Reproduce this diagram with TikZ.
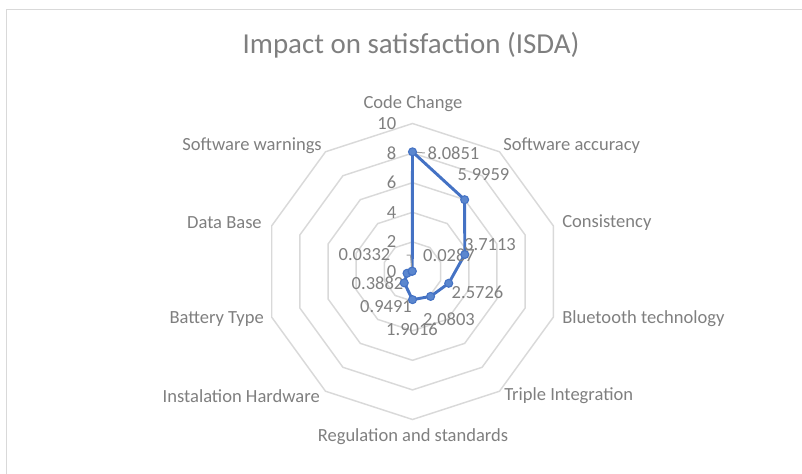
\documentclass[tikz,border=0pt]{standalone}
\usepackage{fontspec}
\setmainfont{Carlito}
\usepackage{tikz}

\definecolor{gridgray}{HTML}{D9D9D9}
\definecolor{labelgray}{HTML}{7F7F7F}
\definecolor{lineblue}{HTML}{4472C4}
\definecolor{dotblue}{HTML}{5B87CF}

\tikzset{
    lbl/.style = {inner sep = 0pt, text = labelgray},
    dot/.style = {circle, fill = dotblue, draw = lineblue, line width = 0.8pt, inner sep = 0pt, minimum size = 6pt},
    leader/.style = {draw = labelgray!75, line width = 0.75pt}
}

\begin{document}
\begin{tikzpicture}[x = 0.75pt, y = -0.75pt, font = \fontsize{13.9}{16}\selectfont]
        \useasboundingbox (0,0) rectangle (802,474);
        \draw [gridgray, line width = 1.1pt] (6.5,474) -- (6.5,9.5) -- (802,9.5);

        \node [lbl] (title) at (411,45) {\fontsize{21.7}{26}\selectfont Impact on satisfaction (ISDA)};

        \begin{scope}[shift = {(412.5,271.5)}]
            % rings every 2 units
            \foreach \r in {2,4,6,8,10}
                \draw [gridgray, line width = 1.1pt] (-90:\r*14.8) \foreach \k in {1,...,9} { -- (-90+36*\k:\r*14.8) } -- cycle;

            % data
            \foreach \v [count = \k from 0] in {8.0851,5.9959,3.7113,2.5726,2.0803,1.9016,0.9491,0.3882,0.0332,0.0287}
                \coordinate (p\k) at (-90+36*\k:\v*14.8);
        \end{scope}

        \draw [lineblue, line width = 2.2pt, line join = round] (p0) -- (p1) -- (p2) -- (p3) -- (p4) -- (p5) -- (p6) -- (p7) -- (p8) -- (p9) -- cycle;

        % axis values
        \foreach \v in {0,2,...,10}
            \node [lbl, anchor = east] (tick\v) at (396.5,271.5-14.8*\v) {\v};

        % categories
        \node [lbl] (cat0) at (413,104) {Code Change};
        \node [lbl, anchor = west] (cat1) at (503,146) {Software accuracy};
        \node [lbl, anchor = west] (cat2) at (562,223) {Consistency};
        \node [lbl, anchor = west] (cat3) at (562,319) {Bluetooth technology};
        \node [lbl, anchor = west] (cat4) at (504,396) {Triple Integration};
        \node [lbl] (cat5) at (413,437) {Regulation and standards};
        \node [lbl, anchor = east] (cat6) at (320,396) {Instalation Hardware};
        \node [lbl, anchor = east] (cat7) at (264,319) {Battery Type};
        \node [lbl, anchor = east] (cat8) at (262,223) {Data Base};
        \node [lbl, anchor = east] (cat9) at (322,146) {Software warnings};

        % data labels
        \node [lbl] (val0) at (453.5,153) {8.0851};
        \node [lbl] (val1) at (483.5,175) {5.9959};
        \node [lbl] (val2) at (490,245) {3.7113};
        \node [lbl] (val3) at (477.5,292) {2.5726};
        \node [lbl] (val4) at (449,319) {2.0803};
        \node [lbl] (val5) at (412,329) {1.9016};
        \node [lbl] (val6) at (386,307) {0.9491};
        \node [lbl] (val7) at (377.5,283) {0.3882};
        \node [lbl] (val8) at (364.5,255) {0.0332};
        \node [lbl] (val9) at (449,255) {0.0287};

        \coordinate (bend8) at (410.5,255);
        \draw [leader] (p0) -- ([xshift = -2pt]val0.west);
        \draw [leader] ([xshift = 12pt]val8.east) -- (bend8) -- (p8);

        % markers
        \foreach \k in {0,...,9}
            \node [dot] (dot\k) at (p\k) {};
    \end{tikzpicture}
\end{document}
